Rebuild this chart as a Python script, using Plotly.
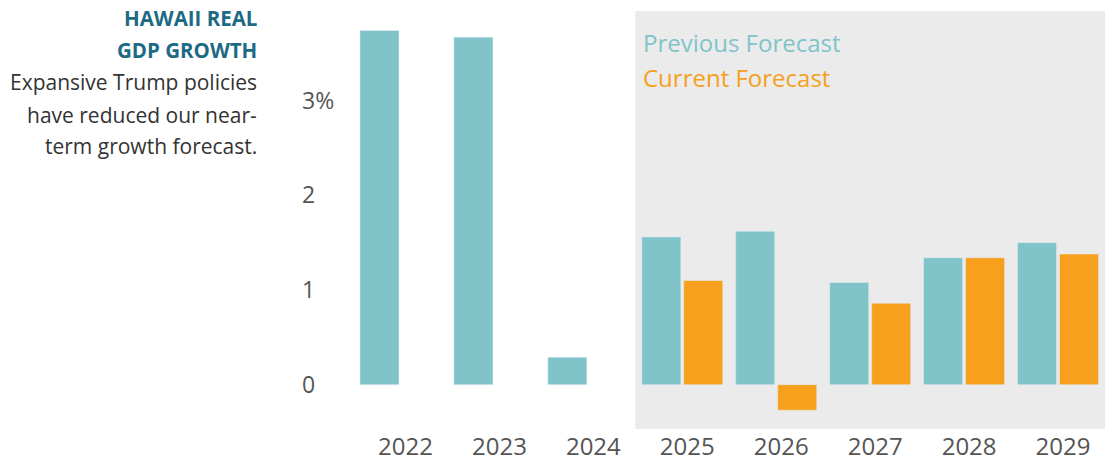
import plotly.graph_objects as go

years = ["2022", "2023", "2024", "2025", "2026", "2027", "2028", "2029"]
previous = [3.74, 3.67, 0.29, 1.56, 1.62, 1.08, 1.34, 1.50]
current = [None, None, None, 1.10, -0.27, 0.86, 1.34, 1.38]
ytick_vals = [0, 1, 2, 3]
ytick_text = ["0", "1", "2", "3%"]

teal = "#80C4CA"
orange = "#F6A01D"
font = "Open Sans"

W, H = 1105, 465
TOP, BOT = 11, 429  # plot area top / bottom in pixels


def px_x(x):
    return x / W


def px_y(y):
    return 1 - (y - TOP) / (BOT - TOP)


fig = go.Figure()
fig.add_trace(go.Bar(x=years, y=previous, name="Previous Forecast", marker_color=teal))
fig.add_trace(go.Bar(x=years, y=current, name="Current Forecast", marker_color=orange))

# forecast period shading
fig.add_shape(type="rect", xref="x", yref="paper", x0=2.5, x1=7.5, y0=0, y1=1,
              fillcolor="#EBEBEB", line_width=0, layer="below")

# legend as coloured text
fig.add_annotation(text="Previous Forecast", xref="paper", yref="paper", x=px_x(641), y=px_y(43),
                   xanchor="left", yanchor="middle", showarrow=False, font=dict(size=24, color=teal, family=font))
fig.add_annotation(text="Current Forecast", xref="paper", yref="paper", x=px_x(641), y=px_y(77),
                   xanchor="left", yanchor="middle", showarrow=False, font=dict(size=24, color=orange, family=font))

# title block on the left
lines = [("<b>HAWAII REAL</b>", "#1D6A84", 18, 20.5),
         ("<b>GDP GROWTH</b>", "#1D6A84", 50, 20.5),
         ("Expansive Trump policies", "#333333", 82, 21),
         ("have reduced our near-", "#333333", 115, 21),
         ("term growth forecast.", "#333333", 146, 21)]
for txt, col, ypx, size in lines:
    fig.add_annotation(text=txt, xref="paper", yref="paper", x=px_x(259), y=px_y(ypx),
                       xanchor="right", yanchor="middle", showarrow=False,
                       font=dict(size=size, color=col, family=font))

fig.update_layout(
    width=W, height=H,
    margin=dict(l=0, r=0, t=TOP, b=H - BOT),
    barmode="group", bargap=0.106, bargroupgap=0.07,
    showlegend=False,
    plot_bgcolor="white", paper_bgcolor="white",
    font=dict(family=font, color="#555555"),
    xaxis=dict(domain=[px_x(353.5), 1], range=[-0.5, 7.5], showgrid=False, showline=False, zeroline=False,
               tickfont=dict(size=24, color="#555555"), ticklabelshift=5, ticklabelstandoff=1),
    yaxis=dict(range=[-0.468, 3.946], anchor="free", position=px_x(298),
               tickvals=ytick_vals, ticktext=ytick_text, ticklabelposition="inside",
               showgrid=False, zeroline=False, showline=False, ticks="",
               tickfont=dict(size=23, color="#555555")),
)

# drop the default body margin so the figure fills the window
fig.write_html("out.html", config={"displayModeBar": False},
               post_script="document.body.style.margin = '0';")
